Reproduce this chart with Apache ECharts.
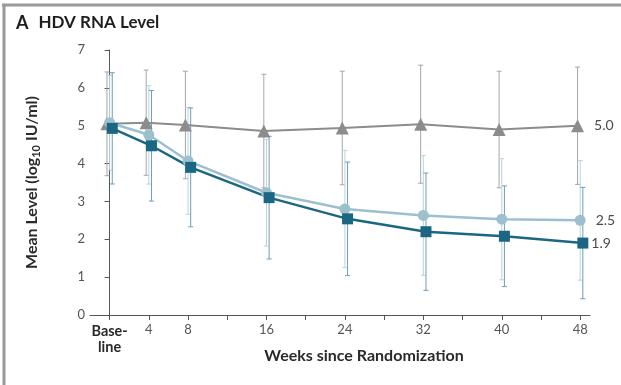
<!DOCTYPE html>
<html>
<head>
<meta charset="utf-8">
<script src="https://cdn.jsdelivr.net/npm/echarts@6/dist/echarts.min.js"></script>
<style>
  html, body { margin: 0; padding: 0; background: #fff; }
  #chart { width: 621px; height: 385px; }
</style>
</head>
<body>
<div id="chart"></div>
<script>
// Study visits (weeks since randomization)
const weeks = [0, 4, 8, 16, 24, 32, 40, 48];
const tickWeeks = [0, 4, 8, 12, 16, 20, 24, 28, 32, 36, 40, 44, 48];
const labelWeeks = [0, 4, 8, 16, 24, 32, 40, 48];

// Mean HDV RNA (log10 IU/ml) and standard deviations per group
const grayMean  = [5.05, 5.08, 5.02, 4.86, 4.94, 5.04, 4.90, 5.0];
const graySd    = [1.37, 1.39, 1.42, 1.50, 1.50, 1.56, 1.54, 1.55];
const lightMean = [5.08, 4.76, 4.07, 3.23, 2.80, 2.63, 2.53, 2.5];
const lightSd   = [1.25, 1.30, 1.41, 1.41, 1.55, 1.58, 1.60, 1.58];
const darkMean  = [4.93, 4.47, 3.90, 3.10, 2.54, 2.20, 2.08, 1.9];
const darkSd    = [1.47, 1.46, 1.57, 1.62, 1.50, 1.55, 1.33, 1.47];

const FONT = 'Lato, "Open Sans", sans-serif';

const groups = [
  { mean: grayMean,  sd: graySd,  dx: -0.27, line: '#8c8c8c', bar: '#a6a6a6', symbol: 'triangle', size: 13, width: 2,   labelDist: 10 },
  { mean: lightMean, sd: lightSd, dx: 0,     line: '#9dc0ce', bar: '#b7d4df', symbol: 'circle',   size: 11, width: 2.5, labelDist: 10 },
  { mean: darkMean,  sd: darkSd,  dx: 0.27,  line: '#1b6682', bar: '#6d9fb3', symbol: 'rect',     size: 11, width: 2.5, labelDist: 3 }
];

function errorBarSeries(g) {
  return {
    type: 'custom',
    silent: true,
    z: 1,
    data: weeks.map((w, i) => [w + g.dx, g.mean[i] - g.sd[i], g.mean[i] + g.sd[i]]),
    encode: { x: 0, y: [1, 2] },
    renderItem: function (params, api) {
      const x = api.value(0);
      const lo = api.coord([x, api.value(1)]);
      const hi = api.coord([x, api.value(2)]);
      const cap = 2.5;
      const style = { stroke: g.bar, lineWidth: 1 };
      return {
        type: 'group',
        children: [
          { type: 'line', shape: { x1: lo[0], y1: lo[1], x2: hi[0], y2: hi[1] }, style: style },
          { type: 'line', shape: { x1: hi[0] - cap, y1: hi[1], x2: hi[0] + cap, y2: hi[1] }, style: style },
          { type: 'line', shape: { x1: lo[0] - cap, y1: lo[1], x2: lo[0] + cap, y2: lo[1] }, style: style }
        ]
      };
    }
  };
}

function lineSeries(g) {
  const last = weeks.length - 1;
  return {
    type: 'line',
    z: 3,
    symbol: g.symbol,
    symbolSize: g.size,
    lineStyle: { color: g.line, width: g.width },
    itemStyle: { color: g.line },
    data: weeks.map((w, i) => {
      const item = { value: [w + g.dx, g.mean[i]] };
      if (i === last) {
        item.label = {
          show: true,
          position: 'right',
          distance: g.labelDist,
          formatter: (p) => p.value[1].toFixed(1),
          color: '#4a4a4a',
          fontFamily: FONT,
          fontSize: 14
        };
      }
      return item;
    })
  };
}

const chart = echarts.init(document.getElementById('chart'), null, { renderer: 'canvas' });

chart.setOption({
  animation: false,
  backgroundColor: '#fff',
  title: {
    text: '{a|A}  {t|HDV RNA Level}',
    left: 11,
    top: 9,
    textStyle: {
      rich: {
        a: { fontFamily: FONT, fontWeight: 'bold', fontSize: 18, color: '#1e1e1e' },
        t: { fontFamily: FONT, fontWeight: 'bold', fontSize: 17, color: '#1e1e1e' }
      }
    }
  },
  graphic: [
    { type: 'line', shape: { x1: 2, y1: 5, x2: 621, y2: 5 }, style: { stroke: '#9a9a9a', lineWidth: 3 }, z: 10 },
    { type: 'line', shape: { x1: 4, y1: 4, x2: 4, y2: 385 }, style: { stroke: '#9a9a9a', lineWidth: 3 }, z: 10 }
  ],
  grid: { left: 90, right: 31, top: 50, bottom: 70 },
  xAxis: {
    type: 'value',
    min: -2,
    max: 49,
    splitLine: { show: false },
    axisLine: { lineStyle: { color: '#555', width: 1 } },
    axisTick: { customValues: tickWeeks, length: 5, lineStyle: { color: '#555' } },
    axisLabel: {
      customValues: labelWeeks,
      margin: 8,
      color: '#555',
      fontFamily: FONT,
      fontSize: 13,
      formatter: (v) => v === 0 ? '{b|Base-}\n{b|line}' : String(v),
      rich: {
        b: { fontFamily: FONT, fontWeight: 'bold', fontSize: 14.5, color: '#2a2a2a', lineHeight: 16 }
      }
    },
    name: 'Weeks since Randomization',
    nameLocation: 'middle',
    nameGap: 33,
    nameMoveOverlap: false,
    nameTextStyle: { fontFamily: FONT, fontWeight: 'bold', fontSize: 16, color: '#2a2a2a', padding: [0, 0, 0, 48] }
  },
  yAxis: {
    type: 'value',
    min: 0,
    max: 7,
    interval: 1,
    splitLine: { show: false },
    axisLine: { show: true, lineStyle: { color: '#555', width: 1 } },
    axisTick: { show: true, length: 5, lineStyle: { color: '#555' } },
    axisLabel: { margin: 5, color: '#555', fontFamily: FONT, fontSize: 13 },
    name: '{n|Mean Level (log}{s|10}{n| IU/ml)}',
    nameLocation: 'middle',
    nameGap: 48,
    nameMoveOverlap: false,
    nameTextStyle: {
      rich: {
        n: { fontFamily: FONT, fontWeight: 'bold', fontSize: 16, color: '#2a2a2a', lineHeight: 20 },
        s: { fontFamily: FONT, fontWeight: 'bold', fontSize: 11, color: '#2a2a2a', lineHeight: 20, verticalAlign: 'bottom', padding: [7, 0, 0, 0] }
      }
    }
  },
  series: [
    errorBarSeries(groups[0]),
    errorBarSeries(groups[1]),
    errorBarSeries(groups[2]),
    lineSeries(groups[0]),
    lineSeries(groups[1]),
    lineSeries(groups[2])
  ]
});
</script>
</body>
</html>
